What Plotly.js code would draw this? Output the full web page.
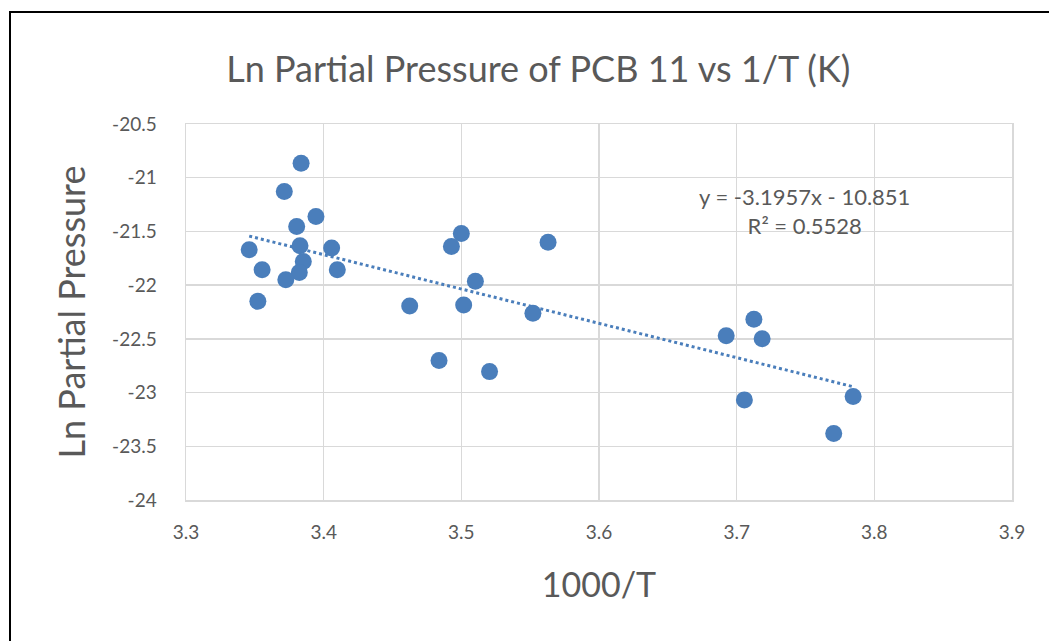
<!DOCTYPE html>
<html>
<head>
<meta charset="utf-8">
<script src="https://cdn.plot.ly/plotly-3.0.1.min.js"></script>
<style>
  body { margin: 0; background: #fff; }
  #chart { position: absolute; left: 9px; top: 11px; width: 1038px; height: 628px;
           border-top: 2px solid #000; border-left: 2px solid #000; }
</style>
</head>
<body>
<div id="chart"></div>
<script>
// Data: 1000/T vs Ln partial pressure
const inv_t = [3.3836, 3.3714, 3.3944, 3.3804, 3.3459, 3.3828, 3.4058, 3.3852, 3.3553,
               3.3823, 3.4099, 3.3725, 3.3522, 3.4928, 3.5000, 3.5630, 3.5102, 3.4625,
               3.5017, 3.5520, 3.4838, 3.5205, 3.7125, 3.6924, 3.7185, 3.7056, 3.7846, 3.7705];
const ln_p = [-20.865, -21.129, -21.361, -21.454, -21.671, -21.634, -21.655, -21.780, -21.857,
              -21.882, -21.857, -21.950, -22.151, -21.641, -21.520, -21.600, -21.963, -22.194,
              -22.185, -22.262, -22.702, -22.805, -22.318, -22.472, -22.500, -23.068, -23.037, -23.380];

// Axis ticks (Excel style, plain hyphen for minus)
const x_ticks = [3.3, 3.4, 3.5, 3.6, 3.7, 3.8, 3.9];
const x_labels = ["3.3", "3.4", "3.5", "3.6", "3.7", "3.8", "3.9"];
const y_ticks = [-20.5, -21, -21.5, -22, -22.5, -23, -23.5, -24];
const y_labels = ["-20.5", "-21", "-21.5", "-22", "-22.5", "-23", "-23.5", "-24"];

// Linear trendline given on the chart
const slope = -3.1957;
const intercept = -10.851;
const r_squared = "0.5528";

const x_min = Math.min(...inv_t);
const x_max = Math.max(...inv_t);

const text_color = "#595959";
const dot_color = "#4a7ebb";
const grid_color = "#d9d9d9";

const points_trace = {
    type: "scatter",
    mode: "markers",
    x: inv_t,
    y: ln_p,
    marker: { color: dot_color, size: 17, line: { width: 0 } },
    hoverinfo: "x+y"
};

const trend_trace = {
    type: "scatter",
    mode: "lines",
    x: [x_min, x_max],
    y: [slope * x_min + intercept, slope * x_max + intercept],
    line: { color: dot_color, width: 3, dash: "dot" },
    hoverinfo: "skip"
};

Plotly.newPlot("chart", [trend_trace, points_trace], {
    width: 1038,
    height: 628,
    showlegend: false,
    margin: { l: 175, r: 37, t: 111, b: 141 },
    paper_bgcolor: "#fff",
    plot_bgcolor: "#fff",
    font: { family: "Lato, 'Open Sans', sans-serif", color: text_color },

    title: {
        text: "Ln Partial Pressure of PCB 11 vs 1/T (K)",
        font: { size: 36, color: text_color },
        x: 0.508, xref: "container",
        y: 0.91, yref: "container", yanchor: "middle"
    },

    // Axis Formatting:
    xaxis: {
        range: [3.3, 3.9],
        tickvals: x_ticks,
        ticktext: x_labels,
        gridcolor: grid_color,
        gridwidth: 1.5,
        showline: true,
        linecolor: grid_color,
        linewidth: 1.5,
        mirror: true,
        zeroline: false,
        ticks: "",
        ticklabelstandoff: 15,
        tickfont: { size: 19, color: text_color },
        title: { text: "1000/T", font: { size: 34, color: text_color }, standoff: 31 }
    },

    yaxis: {
        range: [-24, -20.5],
        tickvals: y_ticks,
        ticktext: y_labels,
        gridcolor: grid_color,
        gridwidth: 1.5,
        showline: true,
        linecolor: grid_color,
        linewidth: 1.5,
        mirror: true,
        zeroline: false,
        ticks: "",
        ticklabelstandoff: 24,
        tickfont: { size: 19, color: text_color },
        title: { text: "Ln Partial Pressure", font: { size: 36, color: text_color }, standoff: 15 }
    },

    annotations: [{
        x: 3.7495, y: -21.31, xref: "x", yref: "y",
        text: "y = " + slope + "x - " + (-intercept) + "<br>R² = " + r_squared,
        showarrow: false,
        align: "center",
        font: { size: 22, color: text_color }
    }]
}, { displayModeBar: false, staticPlot: true });
</script>
</body>
</html>
